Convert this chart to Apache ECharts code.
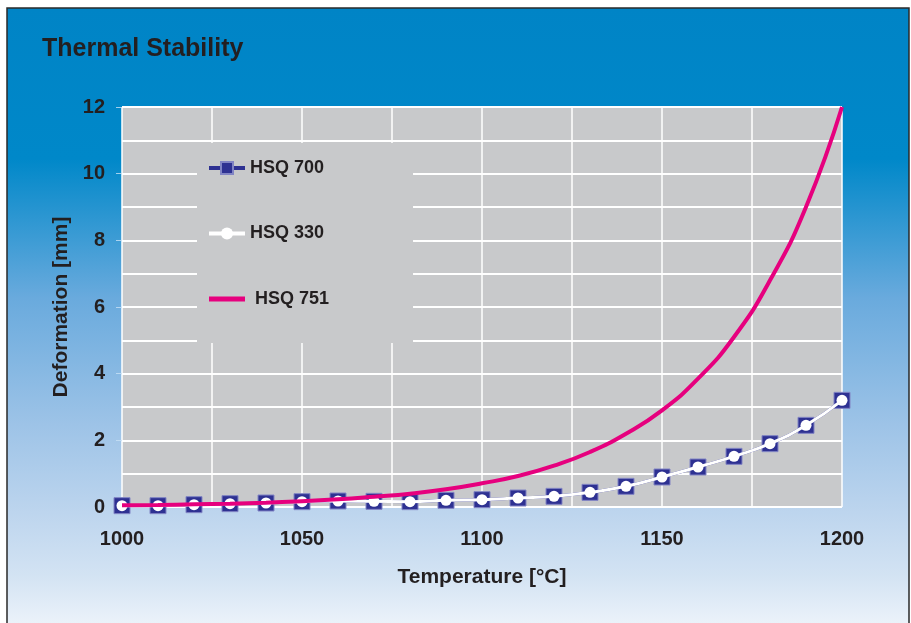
<!DOCTYPE html>
<html><head><meta charset="utf-8">
<script src="https://cdn.jsdelivr.net/npm/echarts@6/dist/echarts.min.js"></script>
<style>html,body{margin:0;padding:0;background:#fff}#c{width:911px;height:623px}</style>
</head><body><div id="c"></div>
<script>
const temperatures = [1000,1010,1020,1030,1040,1050,1060,1070,1080,1090,1100,1110,1120,1130,1140,1150,1160,1170,1180,1190,1200];
const hsq700 = [0.04,0.04,0.07,0.10,0.12,0.16,0.18,0.17,0.16,0.20,0.22,0.27,0.32,0.44,0.62,0.90,1.20,1.52,1.90,2.45,3.20];
const hsq330 = [0.04,0.04,0.07,0.10,0.12,0.16,0.18,0.17,0.16,0.20,0.22,0.27,0.32,0.44,0.62,0.90,1.20,1.52,1.90,2.45,3.20];
const hsq751 = [0.05,0.06,0.08,0.10,0.13,0.17,0.23,0.31,0.40,0.53,0.71,0.93,1.24,1.65,2.20,2.90,3.85,5.10,6.80,9.00,12.00];
const seriesNames = ['HSQ 700','HSQ 330','HSQ 751'];
const xTicks = [1000,1050,1100,1150,1200];
const yTicks = [0,2,4,6,8,10,12];

const FONT = "'Liberation Sans', Arial, sans-serif";
const TXT = '#231f20';
const chart = echarts.init(document.getElementById('c'), null, {renderer:'canvas'});
const pairs = arr => temperatures.map((t,i)=>[t, arr[i]]);

chart.setOption({
  animation:false,
  graphic:[{
    type:'rect', z:-10, silent:true,
    shape:{x:7, y:8, width:902, height:630},
    style:{
      fill:new echarts.graphic.LinearGradient(0,0,0,1,[
        {offset:0,color:'#0084c6'},
        {offset:0.24,color:'#0088c9'},
        {offset:0.46,color:'#69aadd'},
        {offset:0.66,color:'#9dc3e7'},
        {offset:0.8,color:'#bdd5ee'},
        {offset:0.9,color:'#d3e3f3'},
        {offset:1,color:'#f3f7fc'}
      ]),
      stroke:'#2a2a2a', lineWidth:1.5
    }
  }],
  title:{
    text:'Thermal Stability', left:42, top:37, padding:0,
    textStyle:{fontFamily:FONT, fontSize:25, fontWeight:'bold', color:TXT}
  },
  legend:{
    data:[
      {name:seriesNames[0], lineStyle:{width:4}},
      {name:seriesNames[1], lineStyle:{width:4}},
      {name:seriesNames[2], icon:'path://M0,0L36,0L36,5L0,5Z', textStyle:{padding:[0,0,0,5]}}
    ],
    orient:'vertical', left:197, top:143,
    backgroundColor:'#c8c9cb',
    padding:[16,84,35,10],
    itemWidth:36, itemHeight:15, itemGap:47.5,
    textStyle:{fontFamily:FONT, fontSize:18, fontWeight:'bold', color:TXT}
  },
  grid:{left:122, right:69, top:107, bottom:116, show:true, backgroundColor:'#c8c9cb', borderWidth:0},
  xAxis:{
    type:'value', min:xTicks[0], max:xTicks[xTicks.length-1], interval:50,
    axisLine:{show:false}, axisTick:{show:false},
    minorTick:{show:false, splitNumber:2},
    splitLine:{show:true, lineStyle:{color:'#ffffff', width:1.5}},
    minorSplitLine:{show:true, lineStyle:{color:'#ffffff', width:1.5}},
    axisLabel:{margin:22, formatter:v=>String(v), fontFamily:FONT, fontSize:20, fontWeight:'bold', color:TXT},
    name:'Temperature [°C]', nameLocation:'middle', nameGap:60,
    nameTextStyle:{fontFamily:FONT, fontSize:21, fontWeight:'bold', color:TXT}
  },
  yAxis:{
    type:'value', min:yTicks[0], max:yTicks[yTicks.length-1], interval:2,
    axisLine:{show:false},
    axisTick:{show:true, length:6, lineStyle:{color:'rgba(200,225,245,0.8)', width:1}},
    minorTick:{show:false, splitNumber:2},
    splitLine:{show:true, lineStyle:{color:'#ffffff', width:1.8}},
    minorSplitLine:{show:true, lineStyle:{color:'#ffffff', width:1.8}},
    axisLabel:{margin:17, fontFamily:FONT, fontSize:20, fontWeight:'bold', color:TXT},
    name:'Deformation [mm]', nameLocation:'middle', nameGap:50,
    nameTextStyle:{fontFamily:FONT, fontSize:21, fontWeight:'bold', color:TXT}
  },
  series:[
    {
      name:seriesNames[0], type:'line', data:pairs(hsq700), smooth:0.5, z:2,
      symbol:'rect', symbolSize:16,
      lineStyle:{color:'#2e3192', width:3},
      itemStyle:{color:'#2e3192', borderColor:'#8184c4', borderWidth:1}
    },
    {
      name:seriesNames[1], type:'line', data:pairs(hsq330), smooth:0.5, z:3,
      symbol:'circle', symbolSize:11,
      lineStyle:{color:'#ffffff', width:3},
      itemStyle:{color:'#ffffff', borderWidth:0}
    },
    {
      name:seriesNames[2], type:'line', data:pairs(hsq751), smooth:0.5, z:4,
      symbol:'none',
      lineStyle:{color:'#e6007e', width:4},
      itemStyle:{color:'#e6007e'}
    }
  ]
});
</script></body></html>
